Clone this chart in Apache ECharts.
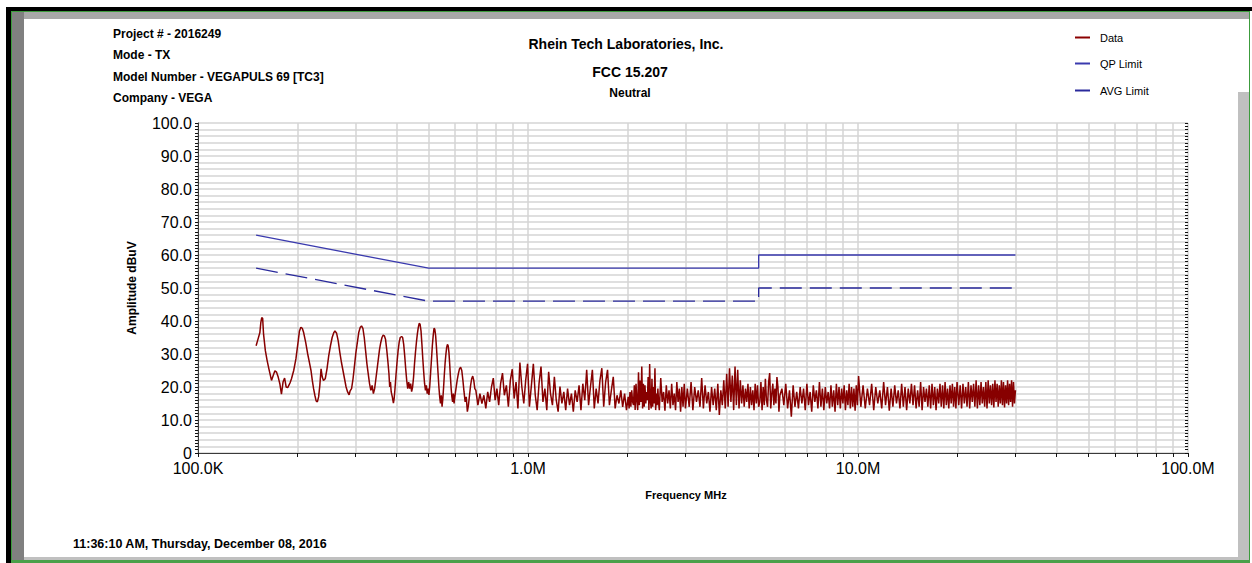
<!DOCTYPE html>
<html>
<head>
<meta charset="utf-8">
<script src="https://cdn.jsdelivr.net/npm/echarts/dist/echarts.min.js"></script>
<style>
html,body{margin:0;padding:0;background:#fff;}
body{width:1252px;height:563px;overflow:hidden;}
#chart{width:1252px;height:563px;}
</style>
</head>
<body>
<div id="chart"></div>
<script>
// ---------- data (MHz / dBuV) ----------
const segAFreq = [
0.150,0.152,0.154,0.155,0.156,0.157,0.158,0.160,0.162,0.164,
0.167,0.169,0.171,0.173,0.175,0.177,0.179,0.181,0.183,0.185,
0.187,0.190,0.192,0.195,0.198,0.201,0.203,0.205,0.207,0.209,
0.212,0.215,0.218,0.220,0.222,0.224,0.226,0.228,0.230,0.232,
0.234,0.236,0.238,0.240,0.243,0.246,0.249,0.252,0.255,0.258,
0.260,0.263,0.266,0.269,0.272,0.275,0.278,0.281,0.284,0.287,
0.289,0.292,0.295,0.298,0.301,0.304,0.307,0.310,0.313,0.316,
0.319,0.322,0.325,0.328,0.331,0.334,0.337,0.340,0.343,0.346,
0.349,0.352,0.355,0.358,0.361,0.364,0.367,0.370,0.373,0.376,
0.379,0.381,0.383,0.385,0.388,0.391,0.393,0.395,0.398,0.401,
0.404,0.407,0.410,0.414,0.417,0.420,0.423,0.426,0.429,0.432,
0.435,0.438,0.441,0.444,0.447,0.450,0.453,0.456,0.459,0.462,
0.465,0.468,0.471,0.474,0.477,0.480,0.483,0.486,0.489,0.492,
0.495,0.498,0.501,0.504,0.507,0.510,0.513,0.516,0.519,0.522,
0.525,0.528,0.531,0.534,0.537,0.540,0.543,0.546,0.549,0.552,
0.555,0.558,0.561,0.564,0.567,0.570,0.573,0.576,0.579,0.582,
0.585,0.588,0.591,0.594,0.597,0.600,0.605,0.610,0.615,0.620,
0.625,0.630,0.635,0.640,0.645,0.650,0.655,0.660,0.665,0.670,
0.675,0.680,0.685,0.690];
const segAAmp = [
32.5,34.5,36.5,39.5,41.0,40.8,36.0,31.0,28.0,25.5,
22.0,23.5,24.9,24.5,23.0,21.0,17.8,21.5,22.7,20.0,
19.8,21.2,22.5,25.0,28.5,33.5,37.0,38.1,37.8,36.5,
33.5,30.0,27.0,25.0,22.0,19.5,17.5,15.8,15.5,17.0,
20.5,25.5,23.0,22.0,22.5,25.5,29.5,32.5,35.0,36.5,
37.0,36.3,34.0,30.5,27.5,25.0,22.5,20.0,18.5,17.6,
18.8,19.5,22.5,26.5,30.5,33.5,36.5,38.0,38.5,37.8,
35.0,31.0,27.0,24.0,21.0,19.0,20.5,18.0,19.5,22.5,
25.5,28.5,31.5,33.5,35.0,35.7,35.5,34.5,31.5,28.0,
24.0,20.0,21.5,18.5,17.0,15.1,16.5,19.0,23.5,27.5,
31.0,33.5,35.0,35.3,35.0,33.0,29.5,25.5,22.0,19.5,
21.5,19.5,21.0,18.6,20.0,23.0,27.0,30.5,33.5,36.0,
38.0,39.3,39.0,37.0,33.0,28.5,24.5,21.0,19.0,20.5,
18.0,19.5,17.6,20.5,24.5,28.5,32.5,35.5,37.8,37.5,
35.5,32.0,28.0,24.0,20.0,17.0,15.0,17.5,14.0,16.5,
20.0,24.0,27.5,30.0,32.0,32.9,32.5,30.5,27.0,23.0,
19.5,17.0,15.5,18.0,15.0,17.0,19.5,22.0,24.0,25.5,
26.0,25.0,22.0,18.5,15.5,17.0,12.5,14.5,17.5,20.5,
22.5,23.3,22.0,19.5];
const segBFreq = [
0.695,0.705,0.715,0.725,0.735,0.745,0.755,0.765,0.775,0.785,
0.795,0.805,0.815,0.826,0.837,0.848,0.860,0.872,0.884,0.896,
0.908,0.920,0.932,0.945,0.958,0.971,0.984,0.997,1.010,1.024,
1.038,1.052,1.066,1.080,1.095,1.110,1.125,1.140,1.155,1.170,
1.186,1.202,1.218,1.234,1.250,1.267,1.284,1.301,1.318,1.336,
1.354,1.372,1.390,1.409,1.428,1.447,1.466,1.486,1.506,1.526,
1.546,1.567,1.588,1.609,1.630,1.652,1.674,1.696,1.719,1.742,
1.765,1.789,1.813,1.837,1.861,1.886,1.911,1.936,1.962,1.988];
const segBAmp = [
19.0,14.5,18.0,15.0,17.5,13.5,18.5,15.5,20.0,22.7,
16.0,19.5,14.5,21.0,24.2,17.5,20.5,14.0,22.0,25.4,
16.5,21.5,13.5,27.4,20.0,15.0,22.0,27.0,14.0,20.5,
27.0,17.5,13.0,21.0,26.2,15.5,19.5,13.0,24.6,18.0,
14.5,23.1,16.0,12.5,20.1,15.0,18.5,13.0,19.5,14.5,
18.0,12.5,19.0,15.5,20.5,13.0,21.0,16.0,25.2,14.5,
20.0,25.2,13.5,19.5,15.0,22.0,25.7,14.0,21.5,25.2,
14.5,19.0,23.1,13.5,17.5,15.0,19.0,14.0,18.0,13.0];
const segCFreq = [
2.012,2.025,2.037,2.050,2.062,2.075,2.087,2.100,2.112,2.125,
2.137,2.150,2.162,2.175,2.187,2.200,2.212,2.225,2.237,2.250,
2.262,2.275,2.287,2.300,2.312,2.325,2.337,2.350,2.362,2.375,
2.387,2.400,2.412,2.425,2.437,2.450,2.462,2.475,2.487,2.500,
2.525,2.550,2.575,2.600,2.625,2.650,2.675,2.700,2.725,2.750,
2.775,2.800,2.825,2.850,2.875,2.900,2.925,2.950,2.975,3.000,
3.04,3.08,3.12,3.16,3.20,3.24,3.28,3.32,3.36,3.40,
3.44,3.48,3.52,3.56,3.60,3.64,3.68,3.72,3.76,3.80,
3.84,3.88,3.92,3.96,4.00,4.04,4.08,4.12,4.16,4.20,
4.24,4.28,4.32,4.36,4.40,4.44,4.48,4.52,4.56,4.60,
4.64,4.68,4.72,4.76,4.80,4.84,4.88,4.92,4.96,5.00];
const segCAmp = [
17.0,13.5,18.5,14.0,19.0,15.5,14.5,20.5,13.0,21.0,
16.0,13.0,24.5,14.5,22.0,15.5,26.2,13.5,21.0,14.0,
20.5,15.0,18.5,16.0,23.0,13.0,27.0,15.5,13.5,22.5,
14.0,20.0,15.0,25.7,13.0,18.0,14.5,19.5,15.5,13.0,
22.7,15.5,18.5,12.8,20.5,15.0,19.0,13.5,21.0,14.5,
18.0,13.0,21.5,15.5,19.5,12.5,20.0,14.0,21.0,13.5,
19.5,14.0,21.5,13.0,20.0,15.5,19.0,14.0,22.7,13.5,
20.5,15.0,18.5,12.5,20.0,14.5,19.5,13.0,21.0,11.5,
19.0,14.5,22.0,13.5,24.0,14.0,25.7,15.5,23.5,13.0,
26.2,14.5,25.2,13.5,22.0,15.0,20.5,14.0,19.5,15.5,
21.0,13.5,20.0,14.5,19.0,13.0,21.0,15.0,20.5,14.0];
const segDFreq = [
5.04,5.08,5.12,5.16,5.20,5.24,5.28,5.32,5.36,5.40,
5.44,5.48,5.52,5.56,5.60,5.64,5.68,5.72,5.76,5.80,
5.88,5.96,6.04,6.12,6.20,6.28,6.36,6.44,6.52,6.60,
6.68,6.76,6.84,6.92,7.00,7.08,7.16,7.24,7.32,7.40,
7.48,7.56,7.64,7.72,7.80,7.88,7.96,8.04,8.12,8.20,
8.28,8.36,8.44,8.52,8.60,8.68,8.76,8.84,8.92,9.00,
9.08,9.16,9.24,9.32,9.40,9.48,9.56,9.64,9.72,9.80,
9.88,9.96,10.04];
const segDAmp = [
15.5,21.5,13.0,20.0,14.5,22.5,16.0,14.0,21.5,24.2,
13.5,18.0,21.0,14.5,19.5,15.0,23.0,20.0,12.5,17.5,
19.5,14.5,21.0,13.5,19.0,11.0,20.5,14.0,18.5,13.5,
20.0,15.0,19.5,13.0,21.0,14.5,18.5,12.5,20.5,15.5,
19.0,13.5,21.5,14.0,19.5,13.0,20.0,15.0,18.5,13.5,
20.5,14.0,19.0,12.5,21.0,14.5,20.0,13.5,19.5,15.0,
20.5,13.0,19.0,14.5,21.0,13.5,20.0,14.0,19.5,12.8,
20.5,14.5,23.3];
const segEFreq = [
10.20,10.36,10.52,10.68,10.84,11.00,11.16,11.32,11.48,11.64,
11.80,11.96,12.12,12.28,12.44,12.60,12.76,12.92,13.08,13.24,
13.40,13.56,13.72,13.88,14.04,14.20,14.36,14.52,14.68,14.84,
15.00,15.16,15.32,15.48,15.64,15.80,15.96,16.12,16.28,16.44,
16.60,16.76,16.92,17.08,17.24,17.40,17.56,17.72,17.88,18.04,
18.20,18.36,18.52,18.68,18.84,19.00,19.16,19.32,19.48,19.64,
19.80,19.96,
20.2,20.4,20.6,20.8,21.0,21.2,21.4,21.6,21.8,22.0,
22.2,22.4,22.6,22.8,23.0,23.2,23.4,23.6,23.8,24.0,
24.2,24.4,24.6,24.8,25.0,25.2,25.4,25.6,25.8,26.0,
26.2,26.4,26.6,26.8,27.0,27.2,27.4,27.6,27.8,28.0,
28.2,28.4,28.6,28.8,29.0,29.2,29.4,29.6,29.8,30.0];
const segEAmp = [
14.0,20.5,13.5,19.5,14.5,21.0,13.0,20.0,15.0,19.0,
13.5,21.5,14.5,20.0,12.8,19.5,14.0,20.5,15.0,19.0,
13.5,21.0,14.0,20.0,13.0,19.5,15.0,21.0,14.5,20.5,
13.5,19.0,14.0,21.5,13.0,20.0,15.5,19.5,14.0,20.5,
13.5,21.0,14.5,20.0,13.0,19.5,15.0,21.0,14.0,20.5,
13.5,21.5,14.5,19.5,13.5,20.5,15.0,21.0,14.0,20.0,
13.5,21.5,
14.5,20.5,13.5,21.0,15.0,20.0,14.0,21.5,13.5,20.5,
15.5,21.0,14.0,22.0,13.5,20.5,14.5,21.5,15.0,20.0,
14.0,21.5,13.5,22.0,15.0,20.5,14.5,21.0,13.8,22.0,
15.5,21.0,14.0,20.5,15.0,22.0,14.5,21.5,13.8,20.5,
15.0,22.0,14.5,21.0,15.5,22.0,14.0,21.5,15.0,19.0];

const qpFreq = [0.15, 0.5, 5, 5, 30];
const qpAmp  = [66, 56, 56, 60, 60];
const avgFreq = [0.15, 0.5, 5, 5, 30];
const avgAmp  = [56, 46, 46, 50, 50];

const xTickValues = [0.1,0.2,0.3,0.4,0.5,0.6,0.7,0.8,0.9,1,2,3,4,5,6,7,8,9,10,20,30,40,50,60,70,80,90,100];
const xLabelValues = [0.1, 1, 10, 100];
const xLabelText = ['100.0K', '1.0M', '10.0M', '100.0M'];

// ---------- build ----------
const traceFreq = [].concat(segAFreq, segBFreq, segCFreq, segDFreq, segEFreq);
const traceAmp = [].concat(segAAmp, segBAmp, segCAmp, segDAmp, segEAmp);
const traceData = traceFreq.map((f, i) => [f, traceAmp[i]]);
const qpData = qpFreq.map((f, i) => [f, qpAmp[i]]);
const avgData = avgFreq.map((f, i) => [f, avgAmp[i]]);

const FONT = '"Liberation Sans", Arial, sans-serif';
const gridColor = '#d4d4d4';
const axisColor = '#3a3a3a';

function fmtX(v) {
  for (let i = 0; i < xLabelValues.length; i++) {
    if (Math.abs(v - xLabelValues[i]) < xLabelValues[i] * 1e-6) return xLabelText[i];
  }
  return '';
}
function fmtY(v) {
  if (Math.abs(v % 10) > 1e-6) return '';
  return v === 0 ? '0' : v.toFixed(1);
}

const baseX = { type: 'log', logBase: 10, min: 0.1, max: 100, gridIndex: 0 };
const baseY = { type: 'value', min: 0, max: 100, interval: 2, gridIndex: 0 };

function txt(x, y, s, font, align) {
  return { type: 'text', x: x, y: y, silent: true, z: 10,
    style: { text: s, font: font, fill: '#000', align: align || 'left', verticalAlign: 'middle' } };
}
// window frame (decoration only)
function box(x, y, w, h, color) {
  return { type: 'rect', silent: true, z: -10, shape: { x: x, y: y, width: w, height: h }, style: { fill: color } };
}
function leg(name, top) {
  return {
    data: [name], left: 1075, top: top, orient: 'vertical', padding: 0,
    itemWidth: 15, itemHeight: 2, icon: 'rect', selectedMode: false,
    textStyle: { fontFamily: FONT, fontSize: 11, color: '#000', padding: [0, 0, 0, 5] }
  };
}

const chart = echarts.init(document.getElementById('chart'), null, { renderer: 'svg' });
chart.setOption({
  animation: false,
  backgroundColor: '#ffffff',
  grid: { left: 198, right: 64, top: 123, bottom: 110, containLabel: false, outerBoundsMode: 'none' },
  xAxis: [
    Object.assign({}, baseX, {
      name: 'Frequency MHz', nameLocation: 'middle', nameGap: 36,
      nameTextStyle: { fontFamily: FONT, fontSize: 11, fontWeight: 'bold', color: '#000', padding: [0, 14, 0, 0] },
      axisLine: { show: true, onZero: false, lineStyle: { color: axisColor, width: 1 } },
      axisTick: { show: true, length: 4, customValues: xTickValues, lineStyle: { color: '#111', width: 1 } },
      axisLabel: { show: true, customValues: xLabelValues, formatter: fmtX, fontFamily: FONT, fontSize: 16, lineHeight: 16, color: '#000', margin: 7 },
      splitLine: { show: true, lineStyle: { color: gridColor, width: 1.5 } }
    }),
    Object.assign({}, baseX, {
      axisLine: { show: false },
      axisTick: { show: true, inside: true, length: 3, customValues: xTickValues, lineStyle: { color: '#111', width: 1 } },
      axisLabel: { show: false },
      splitLine: { show: false }
    })
  ],
  yAxis: [
    Object.assign({}, baseY, {
      name: 'Amplitude dBuV', nameLocation: 'middle', nameGap: 60, nameRotate: 90,
      nameTextStyle: { fontFamily: FONT, fontSize: 12, fontWeight: 'bold', color: '#000' },
      axisLine: { show: true, onZero: false, lineStyle: { color: axisColor, width: 1 } },
      axisTick: { show: true, length: 3, lineStyle: { color: '#111', width: 1 } },
      minorTick: { show: true, splitNumber: 2, length: 3, lineStyle: { color: '#111', width: 1 } },
      axisLabel: { formatter: fmtY, fontFamily: FONT, fontSize: 16, lineHeight: 13, color: '#000', margin: 6 },
      splitLine: { show: true, lineStyle: { color: gridColor, width: 1.5 } }
    }),
    Object.assign({}, baseY, {
      axisLine: { show: false },
      axisTick: { show: true, inside: true, length: 3, lineStyle: { color: '#111', width: 1 } },
      minorTick: { show: true, splitNumber: 2, length: 3, lineStyle: { color: '#111', width: 1 } },
      axisLabel: { show: false },
      splitLine: { show: false }
    })
  ],
  legend: [leg('Data', 32), leg('QP Limit', 58), leg('AVG Limit', 85)],
  graphic: [
    box(6, 7, 1246, 4, '#000000'),
    box(6, 11, 5, 552, '#000000'),
    box(11, 11, 1239, 1, '#3c9c3c'),
    box(11, 11, 1, 552, '#3c9c3c'),
    box(1249, 11, 1, 552, '#3c9c3c'),
    box(11, 560, 1239, 3, '#4aa04a'),
    box(12, 12, 12, 548, '#808080'),
    box(24, 12, 1225, 7, '#a8a8a8'),
    box(1238, 92, 11, 468, '#c0c0c0'),
    box(24, 557, 1214, 3, '#c0c0c0'),
    txt(113, 34, 'Project # - 2016249', 'bold 12px ' + FONT),
    txt(113, 55, 'Mode - TX', 'bold 12px ' + FONT),
    txt(113, 76.5, 'Model Number - VEGAPULS 69 [TC3]', 'bold 12px ' + FONT),
    txt(113, 97.5, 'Company - VEGA', 'bold 12px ' + FONT),
    txt(626, 44, 'Rhein Tech Laboratories, Inc.', 'bold 14px ' + FONT, 'center'),
    txt(630, 71.5, 'FCC 15.207', 'bold 14px ' + FONT, 'center'),
    txt(630, 92.5, 'Neutral', 'bold 12px ' + FONT, 'center'),
    txt(73, 544, '11:36:10 AM, Thursday, December 08, 2016', 'bold 12.5px ' + FONT)
  ],
  series: [
    {
      name: 'Data', type: 'line', data: traceData, xAxisIndex: 0, yAxisIndex: 0,
      showSymbol: false, symbol: 'none', color: '#8b0000',
      lineStyle: { color: '#870000', width: 1.5 }, z: 4, silent: true
    },
    {
      name: 'QP Limit', type: 'line', data: qpData, xAxisIndex: 0, yAxisIndex: 0,
      showSymbol: false, symbol: 'none', color: '#3a3aae',
      lineStyle: { color: '#3a3aae', width: 1.3 }, z: 3, silent: true
    },
    {
      name: 'AVG Limit', type: 'line', data: avgData, xAxisIndex: 0, yAxisIndex: 0,
      showSymbol: false, symbol: 'none', color: '#2a2a9c',
      lineStyle: { color: '#2a2a9c', width: 1.3, type: [22, 8] }, z: 3, silent: true
    }
  ]
});
</script>
</body>
</html>
